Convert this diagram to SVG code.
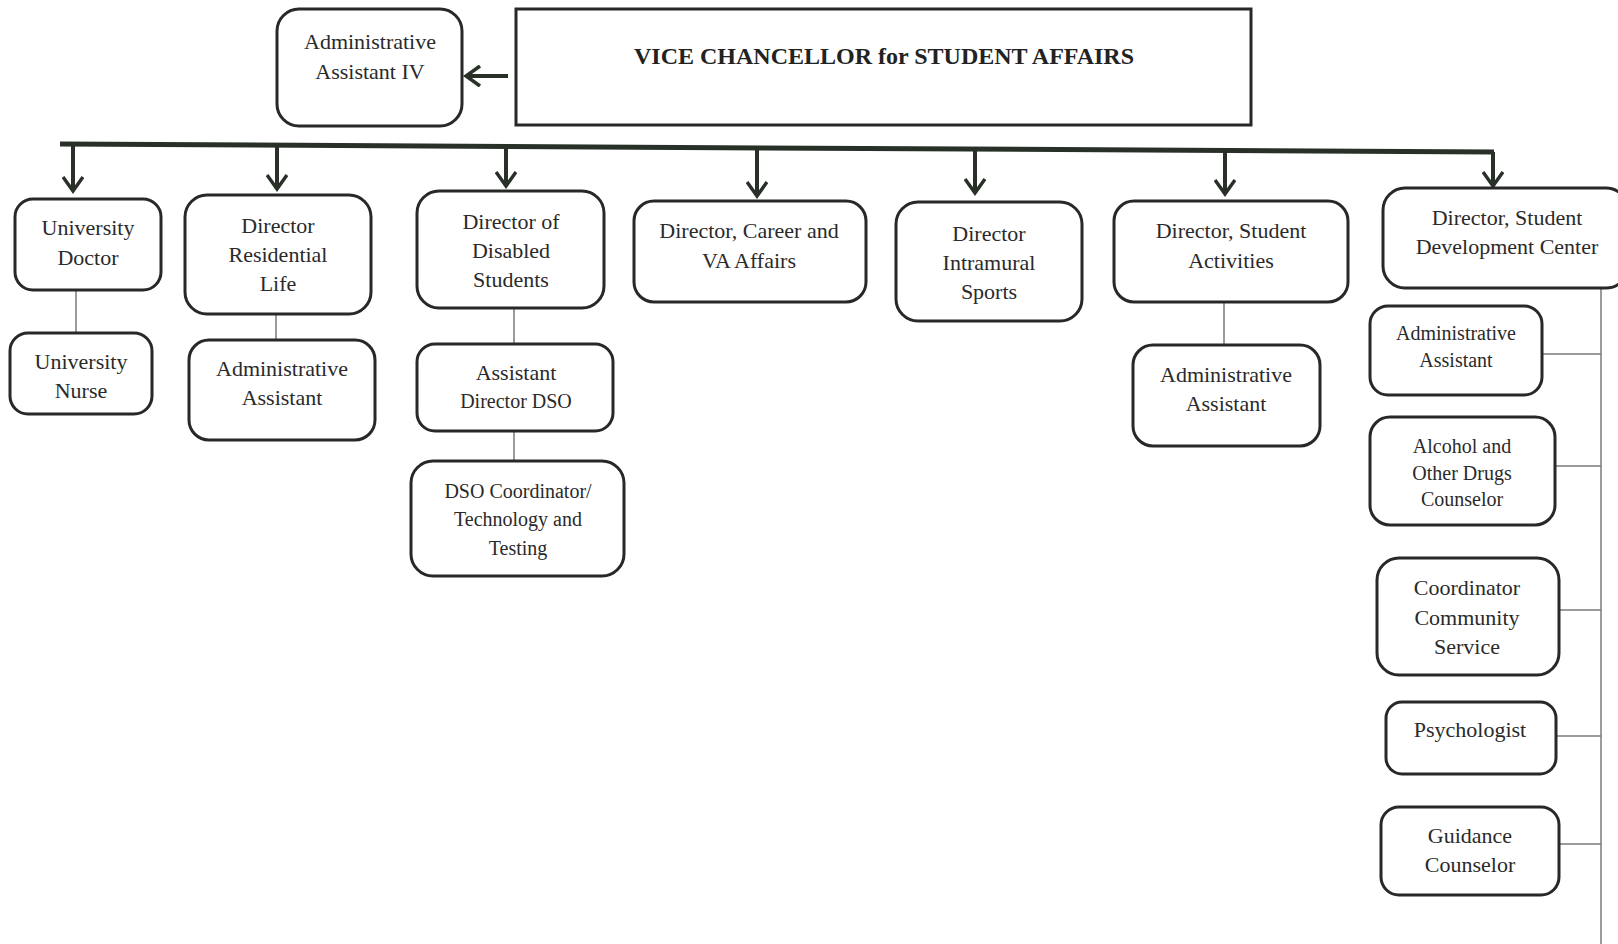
<svg xmlns="http://www.w3.org/2000/svg" width="1618" height="944" viewBox="0 0 1618 944">
  <style>
    .box { fill: #ffffff; stroke: #262926; stroke-width: 3; }
    .t { font-family: "Liberation Serif", "Times New Roman", serif; font-size: 22px; fill: #2a2a2a; text-anchor: middle; }
    .s { font-size: 20px; }
    .title { font-family: "Liberation Serif", "Times New Roman", serif; font-size: 24px; font-weight: bold; fill: #222; text-anchor: middle; }
    .bus { fill: none; stroke: #283028; stroke-width: 5; }
    .drop { fill: none; stroke: #283028; stroke-width: 4; marker-end: url(#chev); }
    .link { fill: none; stroke: #7a7a7a; stroke-width: 1.5; }
  </style>
  <defs>
    <marker id="chev" viewBox="0 0 20 22" refX="17" refY="11" markerWidth="20" markerHeight="22" markerUnits="userSpaceOnUse" orient="auto">
      <path d="M3,1 L17,11 L3,21" fill="none" stroke="#283028" stroke-width="3.5"/>
    </marker>
  </defs>

  <rect width="1618" height="944" fill="#ffffff"/>

  <!-- connectors -->
  <g id="connectors">
    <line class="drop" x1="508" y1="76" x2="466" y2="76"/>
    <path class="bus" d="M60,144 L1494,152"/>
    <line class="drop" x1="73" y1="144" x2="73" y2="191"/>
    <line class="drop" x1="277" y1="145" x2="277" y2="189"/>
    <line class="drop" x1="506" y1="146" x2="506" y2="186"/>
    <line class="drop" x1="757" y1="148" x2="757" y2="196"/>
    <line class="drop" x1="975" y1="149" x2="975" y2="193"/>
    <line class="drop" x1="1225" y1="150" x2="1225" y2="194"/>
    <line class="drop" x1="1493" y1="152" x2="1493" y2="186"/>
    <!-- secondary links -->
    <line class="link" x1="76" y1="290" x2="76" y2="333"/>
    <line class="link" x1="276" y1="314" x2="276" y2="340"/>
    <line class="link" x1="514" y1="308" x2="514" y2="344"/>
    <line class="link" x1="514" y1="431" x2="514" y2="461"/>
    <line class="link" x1="1224" y1="302" x2="1224" y2="345"/>
    <line class="link" x1="1601" y1="288" x2="1601" y2="944"/>
    <line class="link" x1="1542" y1="354" x2="1601" y2="354"/>
    <line class="link" x1="1555" y1="466" x2="1601" y2="466"/>
    <line class="link" x1="1559" y1="610" x2="1601" y2="610"/>
    <line class="link" x1="1556" y1="736" x2="1601" y2="736"/>
    <line class="link" x1="1559" y1="844" x2="1601" y2="844"/>
  </g>

  <g id="vice-chancellor">
    <rect x="516" y="9" width="735" height="116" fill="#fff" stroke="#262926" stroke-width="3"/>
    <text class="title" x="884" y="64">VICE CHANCELLOR for STUDENT AFFAIRS</text>
  </g>

  <g id="admin-assistant-iv">
    <rect class="box" x="277" y="9" width="185" height="117" rx="22"/>
    <text class="t" x="370" y="49">Administrative</text>
    <text class="t" x="370" y="79">Assistant IV</text>
  </g>

  <g id="university-doctor">
    <rect class="box" x="15" y="199" width="146" height="91" rx="18"/>
    <text class="t" x="88" y="235">University</text>
    <text class="t" x="88" y="265">Doctor</text>
  </g>

  <g id="university-nurse">
    <rect class="box" x="10" y="333" width="142" height="81" rx="18"/>
    <text class="t" x="81" y="369">University</text>
    <text class="t" x="81" y="398">Nurse</text>
  </g>

  <g id="director-residential-life">
    <rect class="box" x="185" y="195" width="186" height="119" rx="22"/>
    <text class="t" x="278" y="233">Director</text>
    <text class="t" x="278" y="262">Residential</text>
    <text class="t" x="278" y="291">Life</text>
  </g>

  <g id="residential-admin-assistant">
    <rect class="box" x="189" y="340" width="186" height="100" rx="20"/>
    <text class="t" x="282" y="376">Administrative</text>
    <text class="t" x="282" y="405">Assistant</text>
  </g>

  <g id="director-disabled-students">
    <rect class="box" x="417" y="191" width="187" height="117" rx="22"/>
    <text class="t" x="511" y="229">Director of</text>
    <text class="t" x="511" y="258">Disabled</text>
    <text class="t" x="511" y="287">Students</text>
  </g>

  <g id="assistant-director-dso">
    <rect class="box" x="417" y="344" width="196" height="87" rx="18"/>
    <text class="t" x="516" y="380">Assistant</text>
    <text class="t s" x="516" y="408">Director DSO</text>
  </g>

  <g id="dso-coordinator">
    <rect class="box" x="411" y="461" width="213" height="115" rx="22"/>
    <text class="t s" x="518" y="498">DSO Coordinator/</text>
    <text class="t s" x="518" y="526">Technology and</text>
    <text class="t s" x="518" y="555">Testing</text>
  </g>

  <g id="director-career-va">
    <rect class="box" x="634" y="201" width="232" height="101" rx="20"/>
    <text class="t" x="749" y="238">Director, Career and</text>
    <text class="t" x="749" y="268">VA Affairs</text>
  </g>

  <g id="director-intramural-sports">
    <rect class="box" x="896" y="202" width="186" height="119" rx="22"/>
    <text class="t" x="989" y="241">Director</text>
    <text class="t" x="989" y="270">Intramural</text>
    <text class="t" x="989" y="299">Sports</text>
  </g>

  <g id="director-student-activities">
    <rect class="box" x="1114" y="201" width="234" height="101" rx="20"/>
    <text class="t" x="1231" y="238">Director, Student</text>
    <text class="t" x="1231" y="268">Activities</text>
  </g>

  <g id="activities-admin-assistant">
    <rect class="box" x="1133" y="345" width="187" height="101" rx="20"/>
    <text class="t" x="1226" y="382">Administrative</text>
    <text class="t" x="1226" y="411">Assistant</text>
  </g>

  <g id="director-student-development">
    <rect class="box" x="1383" y="188" width="245" height="100" rx="22"/>
    <text class="t" x="1507" y="225">Director, Student</text>
    <text class="t" x="1507" y="254">Development Center</text>
  </g>

  <g id="sdc-admin-assistant">
    <rect class="box" x="1370" y="306" width="172" height="89" rx="18"/>
    <text class="t s" x="1456" y="340">Administrative</text>
    <text class="t s" x="1456" y="367">Assistant</text>
  </g>

  <g id="alcohol-drugs-counselor">
    <rect class="box" x="1370" y="417" width="185" height="108" rx="20"/>
    <text class="t s" x="1462" y="453">Alcohol and</text>
    <text class="t s" x="1462" y="480">Other Drugs</text>
    <text class="t s" x="1462" y="506">Counselor</text>
  </g>

  <g id="community-service-coordinator">
    <rect class="box" x="1377" y="558" width="182" height="117" rx="22"/>
    <text class="t" x="1467" y="595">Coordinator</text>
    <text class="t" x="1467" y="625">Community</text>
    <text class="t" x="1467" y="654">Service</text>
  </g>

  <g id="psychologist">
    <rect class="box" x="1386" y="702" width="170" height="72" rx="16"/>
    <text class="t" x="1470" y="737">Psychologist</text>
  </g>

  <g id="guidance-counselor">
    <rect class="box" x="1381" y="807" width="178" height="88" rx="18"/>
    <text class="t" x="1470" y="843">Guidance</text>
    <text class="t" x="1470" y="872">Counselor</text>
  </g>
</svg>
